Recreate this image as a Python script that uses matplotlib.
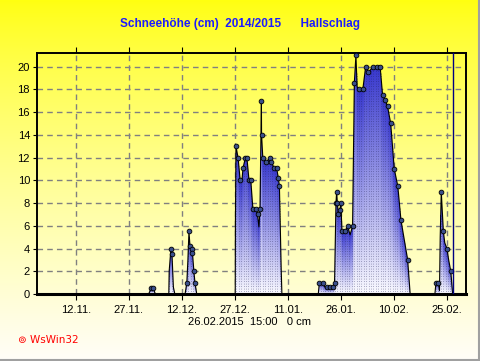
import numpy as np
import matplotlib
matplotlib.use("Agg")
import matplotlib.pyplot as plt
from matplotlib.lines import Line2D

plt.rcParams['font.family'] = ['Liberation Sans', 'DejaVu Sans']

# x = days since 01.11.2014, y = snow depth in cm
days = [31.6, 32.3, 32.9, 33.5,
        37.3, 37.4, 37.9, 38.2, 38.6, 39.0,
        41.9, 42.4, 42.7, 43.0, 43.3, 43.8, 44.0, 44.4, 44.7, 45.2,
        56.1, 56.15, 56.3, 56.9, 57.5, 58.0, 58.3, 59.0, 59.4, 60.0, 60.5,
        61.1, 61.9, 62.4, 62.8, 63.1, 63.5, 63.55, 63.9, 64.9, 65.9, 66.3,
        67.1, 67.8, 68.3, 68.6, 69.1, 69.3,
        79.6, 79.9, 80.9, 81.5, 82.0, 83.0, 83.7, 84.2, 84.6, 84.8, 85.0,
        85.3, 85.7, 86.0, 86.3, 87.2, 87.9, 88.6, 89.3, 89.8, 90.25, 90.6,
        91.1, 92.2, 93.0, 93.8, 95.1, 96.1, 97.1, 97.8, 98.5, 99.2, 100.1,
        101.1, 102.1, 103.0, 104.9, 105.6,
        112.6, 112.9, 113.6, 113.9, 114.1, 114.4, 115.0, 115.4, 116.0,
        116.5, 117.1, 117.5, 117.6]
snow_cm = [0, 0.5, 0.5, 0,
           0, 2.0, 4.0, 3.5, 0.6, 0,
           0, 1.0, 3.0, 5.5, 4.2, 4.0, 3.6, 2.0, 1.0, 0,
           0, 6.4, 13.0, 12.0, 10.0, 10.0, 11.1, 12.0, 12.0, 10.0, 10.0,
           7.5, 7.5, 7.0, 5.9, 7.5, 17.0, 14.0, 12.0, 11.6, 12.0, 11.6,
           11.1, 11.1, 10.2, 9.5, 2.3, 0,
           0, 1.0, 1.0, 0.6, 0.6, 0.6, 0.6, 1.0, 8.0, 9.0, 8.0,
           7.0, 7.4, 8.0, 5.5, 5.5, 6.0, 5.2, 6.0, 18.6, 21.0, 18.2,
           18.0, 18.0, 20.0, 19.5, 20.0, 20.0, 20.0, 17.5, 17.1, 16.5, 15.0,
           11.0, 9.5, 6.5, 3.0, 0,
           0, 1.0, 1.0, 0.3, 5.0, 9.0, 5.5, 4.5, 4.0,
           3.0, 2.0, 0.5, 0]
# 1 = a reading shown with a marker, 0 = outline point only
has_marker = [0, 1, 1, 0,
              0, 0, 1, 1, 0, 0,
              0, 1, 0, 1, 1, 1, 1, 1, 1, 0,
              0, 0, 1, 1, 1, 0, 1, 1, 1, 1, 1,
              1, 1, 1, 0, 1, 1, 1, 1, 1, 1, 1,
              1, 1, 1, 1, 0, 0,
              0, 1, 1, 0, 1, 1, 1, 1, 1, 1, 1,
              1, 1, 1, 1, 1, 1, 0, 1, 1, 1, 0,
              1, 1, 1, 1, 1, 1, 1, 1, 1, 1, 1,
              1, 1, 1, 1, 0,
              0, 1, 1, 0, 0, 1, 1, 0, 1,
              0, 1, 0, 0]

tick_days = [11, 26, 41, 56, 71, 86, 101, 116]
tick_labels = ["12.11.", "27.11.", "12.12.", "27.12.", "11.01.", "26.01.", "10.02.", "25.02."]
y_ticks = list(range(0, 21, 2))
now_day = 117.625
title = "Schneehöhe (cm)  2014/2015      Hallschlag"
footer = "26.02.2015  15:00   0 cm"

x_max = 121.4
y_max = 21.2

fig = plt.figure(figsize=(4.81, 3.61), dpi=100)

# yellow -> pale background over the whole figure
bg_ax = fig.add_axes([0, 0, 1, 1], zorder=-10)
t = np.linspace(0, 1, 256)[:, None]
bg = np.ones((256, 1, 3))
bg[:, 0, 1] = 1.0 - 0.005 * t[:, 0]
bg[:, 0, 2] = (16 + 232 * t[:, 0] ** 0.8) / 255
bg_ax.imshow(bg, aspect='auto', extent=[0, 1, 0, 1], origin='upper')
bg_ax.axis('off')

ax = fig.add_axes([37 / 481, 67 / 361, 429 / 481, 241 / 361])
ax.set_facecolor('none')

# gradient fill under the curve (blue at the top of each column, white at the base)
xs = np.linspace(0, x_max, 1800)
top = np.interp(xs, days, snow_cm)
ys = np.linspace(0, y_max, 600)
frac = ys[:, None] / np.maximum(top[None, :], 1e-9)
inside = ys[:, None] <= top[None, :]
c_top = np.array([55, 55, 205]) / 255
c_bot = np.array([250, 250, 255]) / 255
f = np.clip(frac, 0, 1)[..., None]
img = np.zeros((len(ys), len(xs), 4))
img[..., :3] = c_bot * (1 - f) + c_top * f
img[..., 3] = inside.astype(float)
ax.imshow(img, extent=[0, x_max, 0, y_max], origin='lower', aspect='auto',
          interpolation='nearest', zorder=1)

# dotted column texture like the hourly bars of the original
cols = np.arange(0, x_max, 0.68)
col_top = np.interp(cols, days, snow_cm)
keep = col_top > 0.2
ax.vlines(cols[keep], 0, col_top[keep], colors='#1a1a50', lw=0.6,
          linestyles=(0, (1, 2)), alpha=0.45, zorder=2)

ax.plot(days, snow_cm, color='black', lw=0.8, zorder=3)
d = np.array(days)
s = np.array(snow_cm)
m = np.array(has_marker, dtype=bool)
ax.plot(d[m], s[m], 'o', ms=3.4, mfc='#3a4f8c', mec='black', mew=0.6, zorder=4)

ax.axvline(now_day, color='#000080', lw=1, zorder=5)

ax.set_xlim(0, x_max)
ax.set_ylim(0, y_max)
ax.set_xticks(tick_days)
ax.set_xticklabels(tick_labels, fontsize=8)
ax.set_yticks(y_ticks)
ax.set_yticklabels([str(v) for v in y_ticks], fontsize=8)
ax.tick_params(axis='x', direction='out', length=4, pad=4, top=True)
ax.tick_params(axis='y', direction='out', length=3, pad=2)

for v in tick_days:
    ax.axvline(v, color='#808080', lw=1, ls=(0, (4, 3)), zorder=0.5)
for v in y_ticks[1:]:
    ax.axhline(v, color='#808080', lw=1, ls=(0, (4, 3)), zorder=0.5)

for sp in ax.spines.values():
    sp.set_linewidth(1.4)
ax.spines['bottom'].set_linewidth(2.2)

fig.text(240 / 481, 1 - 24 / 361, title, color='#1c1cff', fontsize=8.5,
         fontweight='bold', ha='center', va='center')
fig.text(250 / 481, 1 - 322 / 361, footer, fontsize=8, ha='center', va='center')
fig.text(18 / 481, 1 - 340 / 361, "\u229a WsWin32", color='red', fontsize=7.5,
         ha='left', va='center', family=['DejaVu Sans'])

# grey frame at right and bottom
fig.add_artist(Line2D([479.5 / 481, 479.5 / 481], [0, 1], color='#a0a0a0', lw=1.5))
fig.add_artist(Line2D([0, 1], [1.5 / 361, 1.5 / 361], color='#a0a0a0', lw=1.5))

fig.savefig("out.png", dpi=100)
